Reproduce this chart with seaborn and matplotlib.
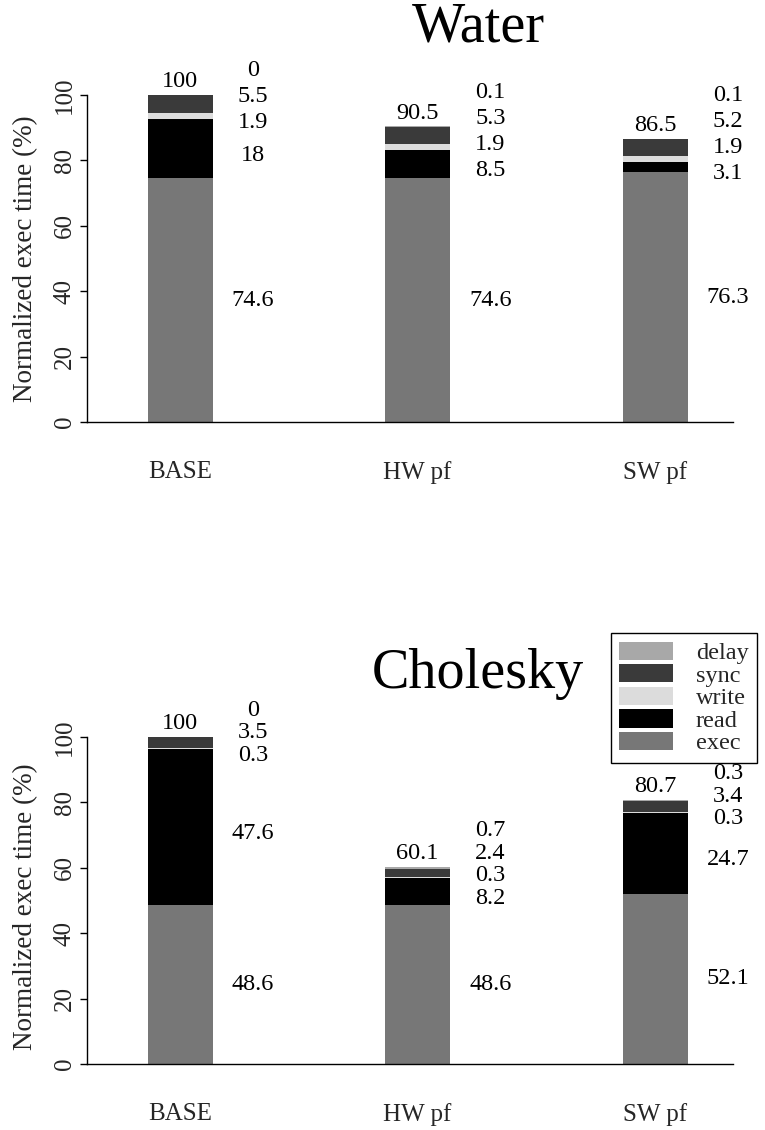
import numpy as np
import pandas as pd
import matplotlib
matplotlib.use("Agg")
import matplotlib.pyplot as plt
import seaborn as sns
from matplotlib.patches import Patch

# ---------------- data ----------------
categories = ["BASE", "HW pf", "SW pf"]
components = ["exec", "read", "write", "sync", "delay"]

water_exec = [74.6, 74.6, 76.3]
water_read = [18, 8.5, 3.1]
water_write = [1.9, 1.9, 1.9]
water_sync = [5.5, 5.3, 5.2]
water_delay = [0, 0.1, 0.1]
water_total = [100, 90.5, 86.5]

chol_exec = [48.6, 48.6, 52.1]
chol_read = [47.6, 8.2, 24.7]
chol_write = [0.3, 0.3, 0.3]
chol_sync = [3.5, 2.4, 3.4]
chol_delay = [0, 0.7, 0.3]
chol_total = [100, 60.1, 80.7]

yticks = [0, 20, 40, 60, 80, 100]

# ---------------- style ----------------
colors = {"exec": "#777777", "read": "#000000", "write": "#dcdcdc",
          "sync": "#3a3a3a", "delay": "#a8a8a8"}

sns.set_theme(style="white")
plt.rcParams["font.family"] = ["Liberation Serif", "DejaVu Serif"]
plt.rcParams["axes.linewidth"] = 1.0

FS = 18
fig = plt.figure(figsize=(7.65, 11.3), dpi=100)
W, H = 765, 1130

def px_axes(left_px, y0_px, y100_px, ymin=-4, ymax=112):
    scale = (y0_px - y100_px) / 100.0
    bot_px = y0_px - ymin * scale
    top_px = y100_px - (ymax - 100) * scale
    return [left_px / W, 1 - bot_px / H, (750 - left_px) / W, (bot_px - top_px) / H]

ax_top = fig.add_axes(px_axes(87, 422, 95))
ax_bot = fig.add_axes(px_axes(87, 1064, 737))

panels = [
    (ax_top, "Water", [water_exec, water_read, water_write, water_sync, water_delay], water_total, 8.0, 42, 50.0),
    (ax_bot, "Cholesky", [chol_exec, chol_read, chol_write, chol_sync, chol_delay], chol_total, 6.9, 688, 48.0),
]

bar_w = 65 / 237.5
xmin = -93 / 237.5
xmax = 2 + 95 / 237.5
label_shift = 2.0

for ax, title, layers, totals, gap, title_base_px, ylab_center in panels:
    df = pd.DataFrame({c: v for c, v in zip(components, layers)})
    df["category"] = categories
    cum = df[components].cumsum(axis=1)
    # overlay cumulative bars from the tallest down to create the stack
    for comp in reversed(components):
        sns.barplot(x=df["category"], y=cum[comp], color=colors[comp],
                    width=bar_w, saturation=1, linewidth=0, ax=ax)
    ax.set_xlim(xmin, xmax)
    ax.set_ylim(-4, 112)
    ax.set_xlabel("")
    ax.set_ylabel("Normalized exec time (%)", fontsize=19.5)
    ax.yaxis.set_label_coords(-61 / 663, (4 + ylab_center) / 116)
    ax.yaxis.label.set_va("center")

    # axes styling (R-like)
    sns.despine(ax=ax, top=True, right=True)
    ax.spines["left"].set_bounds(0, 100)
    ax.spines["left"].set_color("black")
    ax.spines["bottom"].set_position(("data", 0))
    ax.spines["bottom"].set_bounds(xmin, 2 + 78 / 237.5)
    ax.spines["bottom"].set_color("black")
    ax.set_yticks(yticks)
    ax.set_yticklabels([str(t) for t in yticks], rotation=90, va="center")
    ax.tick_params(axis="y", direction="out", length=5, width=1, color="black",
                   labelsize=FS, pad=3, left=True)
    ax.tick_params(axis="x", length=0, labelsize=FS, pad=28)
    ax.grid(False)

    # value labels
    for i in range(len(categories)):
        vals = [layers[k][i] for k in range(len(components))]
        tops = np.cumsum(vals)
        mids = tops - np.array(vals) / 2.0
        pos = list(mids)
        for k in range(2, len(pos)):
            pos[k] = max(mids[k], pos[k - 1] + gap)
        for k in range(1, len(pos)):
            pos[k] -= label_shift
        for k, v in enumerate(vals):
            ax.text(i + 0.307, pos[k], f"{v:g}", ha="center", va="center",
                    fontsize=FS - 0.5, color="black", clip_on=False)
        ax.annotate(f"{totals[i]:g}", xy=(i, tops[-1]), xytext=(0, 2),
                    textcoords="offset points", ha="center", va="bottom",
                    fontsize=FS - 0.5, color="black")

    fig.text(478 / W, 1 - title_base_px / H, title, ha="center", va="baseline",
             fontsize=40.5, color="black")

handles = [Patch(facecolor=colors[c], edgecolor="none", label=c) for c in reversed(components)]
leg = fig.legend(handles=handles, loc="upper right",
                 bbox_to_anchor=(757 / W, 1 - 633 / H),
                 frameon=True, fancybox=False, edgecolor="black", framealpha=1,
                 fontsize=17.5, labelspacing=0.0, handlelength=2.2, handleheight=0.78,
                 handletextpad=0.95, borderpad=0.35, borderaxespad=0)
leg.get_frame().set_linewidth(1.0)

fig.savefig("out.png", dpi=100)
